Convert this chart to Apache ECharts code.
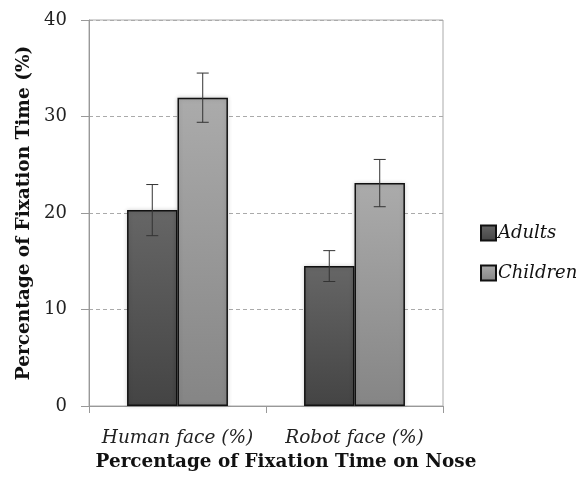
<!DOCTYPE html>
<html><head><meta charset="utf-8">
<script src="https://cdn.jsdelivr.net/npm/echarts@6/dist/echarts.min.js"></script>
<style>html,body{margin:0;padding:0;background:#fff}#c{width:586px;height:479px}</style>
</head><body><div id="c"></div>
<script>
const categories = ['Human face (%)', 'Robot face (%)'];
const seriesNames = ['Adults', 'Children'];
const adults = [20.3, 14.5];
const children = [31.95, 23.1];
const adultsErr = [2.65, 1.6];
const childrenErr = [2.55, 2.45];
const yTicks = [0, 10, 20, 30, 40];

const FONT = 'DejaVu Serif';
const chart = echarts.init(document.getElementById('c'), null, {renderer: 'canvas'});

function grad(top, bottom) {
  return new echarts.graphic.LinearGradient(0, 0, 0, 1, [
    {offset: 0, color: top}, {offset: 1, color: bottom}
  ]);
}
const barStyle = (top, bottom) => ({
  color: grad(top, bottom), borderColor: '#111', borderWidth: 1.5,
  shadowColor: 'rgba(0,0,0,0.18)', shadowBlur: 4
});

function errSeries(values, errs, seriesIndex) {
  return {
    type: 'custom',
    silent: true,
    z: 10,
    data: values.map((v, i) => [i, v - errs[i], v + errs[i]]),
    renderItem: function (params, api) {
      const ci = api.value(0);
      const lo = api.coord([ci, api.value(1)]);
      const hi = api.coord([ci, api.value(2)]);
      const bw = api.size([1, 0])[0];
      const barW = bw * (1 - 0.43) / 2;
      const x = lo[0] + (seriesIndex === 0 ? -barW / 2 : barW / 2);
      const cap = 6;
      const st = {stroke: '#333', lineWidth: 1};
      return {
        type: 'group',
        children: [
          {type: 'line', shape: {x1: x, y1: lo[1], x2: x, y2: hi[1]}, style: st},
          {type: 'line', shape: {x1: x - cap, y1: lo[1], x2: x + cap, y2: lo[1]}, style: st},
          {type: 'line', shape: {x1: x - cap, y1: hi[1], x2: x + cap, y2: hi[1]}, style: st}
        ]
      };
    }
  };
}

chart.setOption({
  animation: false,
  backgroundColor: '#fff',
  grid: {left: 89, right: 143, top: 20, bottom: 73, show: true, borderColor: '#aaa', borderWidth: 1},
  legend: {
    orient: 'vertical', left: 480, top: 223, itemGap: 20, padding: 0,
    itemWidth: 15, itemHeight: 15, icon: 'rect',
    data: seriesNames,
    itemStyle: {shadowBlur: 0},
    textStyle: {fontFamily: FONT, fontStyle: 'italic', fontSize: 18, lineHeight: 20, color: '#111', padding: [0,0,0,-3]}
  },
  xAxis: {
    type: 'category', data: categories,
    name: 'Percentage of Fixation Time on Nose', nameLocation: 'middle', nameGap: 44,
    nameTextStyle: {fontFamily: FONT, fontWeight: 'bold', fontSize: 18.4, color: '#111', padding: [0,0,0,40]},
    axisLine: {lineStyle: {color: '#999'}},
    axisTick: {show: true, length: 7, lineStyle: {color: '#999'}},
    axisLabel: {fontFamily: FONT, fontStyle: 'italic', fontSize: 18.5, color: '#222', margin: 23, interval: 0, hideOverlap: false}
  },
  yAxis: {
    type: 'value', min: yTicks[0], max: yTicks[yTicks.length - 1], interval: 10,
    name: 'Percentage of Fixation Time (%)', nameLocation: 'middle', nameGap: 54,
    nameTextStyle: {fontFamily: FONT, fontWeight: 'bold', fontSize: 18.5, color: '#111'},
    axisLine: {show: true, lineStyle: {color: '#999'}},
    axisTick: {show: true, length: 8, lineStyle: {color: '#999'}},
    axisLabel: {fontFamily: FONT, fontSize: 18, color: '#222', margin: 22},
    splitLine: {show: true, lineStyle: {color: '#aaa', type: [4, 3]}}
  },
  series: [
    {name: seriesNames[0], type: 'bar', data: adults, barGap: '0%', barCategoryGap: '43%',
     itemStyle: barStyle('#666666', '#444444')},
    {name: seriesNames[1], type: 'bar', data: children,
     itemStyle: barStyle('#ababab', '#858585')},
    errSeries(adults, adultsErr, 0),
    errSeries(children, childrenErr, 1)
  ]
});
</script></body></html>
